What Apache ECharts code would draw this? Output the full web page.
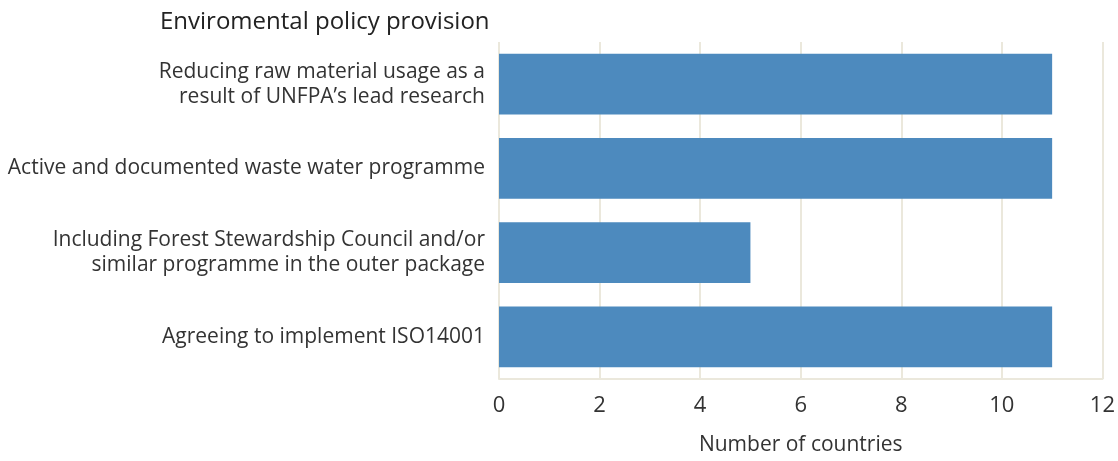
<!DOCTYPE html>
<html>
<head>
<meta charset="utf-8">
<script src="https://cdn.jsdelivr.net/npm/echarts@6/dist/echarts.min.js"></script>
<style>
  html, body { margin: 0; padding: 0; background: #ffffff; overflow: hidden; }
  #chart { width: 1118px; height: 461px; }
</style>
</head>
<body>
<div id="chart"></div>
<script>
// Environmental policy provisions reported by suppliers
const categories = [
  'Reducing raw material usage as a\nresult of UNFPA\u2019s lead research',
  'Active and documented waste water programme',
  'Including Forest Stewardship Council and/or\nsimilar programme in the outer package',
  'Agreeing to implement ISO14001'
];
const countries = [11, 11, 5, 11];
const xTicks = { min: 0, max: 12, interval: 2 };

const chart = echarts.init(document.getElementById('chart'), null, { renderer: 'canvas' });
const fontFamily = '"Open Sans", "Noto Sans", sans-serif';
const gridColor = '#ebe8dc';

chart.setOption({
  animation: false,
  title: {
    text: 'Enviromental policy provision',
    left: 155,
    top: 5,
    textStyle: { fontFamily, fontSize: 24, fontWeight: 'normal', color: '#222222' }
  },
  grid: { left: 499, right: 12, top: 42, bottom: 76, containLabel: false },
  xAxis: {
    type: 'value',
    min: xTicks.min,
    max: xTicks.max,
    interval: xTicks.interval,
    name: 'Number of countries',
    nameLocation: 'middle',
    nameGap: 56,
    nameTextStyle: { fontFamily, fontSize: 21, color: '#333333' },
    axisLine: { show: true, lineStyle: { color: gridColor, width: 2 } },
    axisTick: { show: false },
    axisLabel: { fontFamily, fontSize: 22, color: '#333333', margin: 16 },
    splitLine: { show: true, lineStyle: { color: gridColor, width: 2 } }
  },
  yAxis: {
    type: 'category',
    data: categories,
    inverse: true,
    axisLine: { show: false },
    axisTick: { show: false },
    axisLabel: {
      fontFamily, fontSize: 21, color: '#333333', margin: 14,
      align: 'right', lineHeight: 25
    }
  },
  series: [{
    type: 'bar',
    data: countries,
    barCategoryGap: '28%',
    itemStyle: { color: '#4d8abe' }
  }]
});
</script>
</body>
</html>
